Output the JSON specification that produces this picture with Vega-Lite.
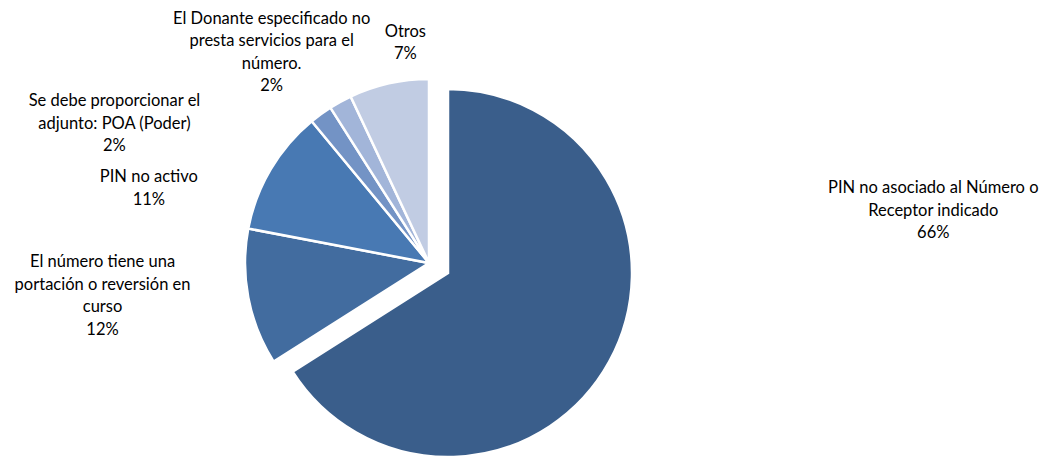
{
  "$schema": "https://vega.github.io/schema/vega-lite/v6.json",
  "width": 858,
  "height": 390,
  "autosize": {"type": "none"},
  "padding": {"left": 0, "top": 68, "right": 192, "bottom": 0},
  "background": "white",
  "config": {"view": {"stroke": null}},
  "data": {
    "values": [
      {"categoria": "PIN no asociado al Número o Receptor indicado", "valor": 66, "orden": 1, "etiqueta": "PIN no asociado al Número o\nReceptor indicado\n66%"},
      {"categoria": "El número tiene una portación o reversión en curso", "valor": 12, "orden": 2, "etiqueta": "El número tiene una\nportación o reversión en\ncurso\n12%"},
      {"categoria": "PIN no activo", "valor": 11, "orden": 3, "etiqueta": "PIN no activo\n11%"},
      {"categoria": "Se debe proporcionar el adjunto: POA (Poder)", "valor": 2, "orden": 4, "etiqueta": "Se debe proporcionar el\nadjunto: POA (Poder)\n2%"},
      {"categoria": "El Donante especificado no presta servicios para el número.", "valor": 2, "orden": 5, "etiqueta": "El Donante especificado no\npresta servicios para el\nnúmero.\n2%"},
      {"categoria": "Otros", "valor": 7, "orden": 6, "etiqueta": "Otros\n7%"}
    ]
  },
  "encoding": {
    "theta": {"field": "valor", "type": "quantitative", "stack": true},
    "order": {"field": "orden", "type": "quantitative"}
  },
  "layer": [
    {
      "mark": {"type": "arc", "outerRadius": 184, "stroke": "#ffffff", "strokeWidth": 2.5, "xOffset": 19, "yOffset": 10},
      "encoding": {
        "color": {
          "field": "categoria", "type": "nominal", "legend": null,
          "scale": {
            "domain": ["PIN no asociado al Número o Receptor indicado", "El número tiene una portación o reversión en curso", "PIN no activo", "Se debe proporcionar el adjunto: POA (Poder)", "El Donante especificado no presta servicios para el número.", "Otros"],
            "range": ["#3a5e8b", "#426c9f", "#4879b3", "#7393c5", "#a2b5d9", "#c1cce3"]
          }
        },
        "opacity": {"condition": {"test": "datum.orden == 1", "value": 1}, "value": 0}
      }
    },
    {
      "mark": {"type": "arc", "outerRadius": 184, "stroke": "#ffffff", "strokeWidth": 2.5},
      "encoding": {
        "color": {"field": "categoria", "type": "nominal", "legend": null},
        "opacity": {"condition": {"test": "datum.orden == 1", "value": 0}, "value": 1}
      }
    },
    {
      "mark": {"type": "text", "radius": 200, "xOffset": 19, "yOffset": 10, "dx": 310, "dy": -181, "align": "center", "baseline": "middle", "lineBreak": "\n", "font": "Lato", "fontSize": 16.5, "lineHeight": 22.5, "color": "#000000"},
      "encoding": {"text": {"condition": {"test": "datum.orden == 1", "field": "etiqueta"}, "value": ""}}
    },
    {
      "mark": {"type": "text", "radius": 200, "dx": -130, "dy": -38, "align": "center", "baseline": "middle", "lineBreak": "\n", "font": "Lato", "fontSize": 16.5, "lineHeight": 22.5, "color": "#000000"},
      "encoding": {"text": {"condition": {"test": "datum.orden == 2", "field": "etiqueta"}, "value": ""}}
    },
    {
      "mark": {"type": "text", "radius": 200, "dx": -108, "dy": 16, "align": "center", "baseline": "middle", "lineBreak": "\n", "font": "Lato", "fontSize": 16.5, "lineHeight": 22.5, "color": "#000000"},
      "encoding": {"text": {"condition": {"test": "datum.orden == 3", "field": "etiqueta"}, "value": ""}}
    },
    {
      "mark": {"type": "text", "radius": 200, "dx": -197, "dy": 0, "align": "center", "baseline": "middle", "lineBreak": "\n", "font": "Lato", "fontSize": 16.5, "lineHeight": 22.5, "color": "#000000"},
      "encoding": {"text": {"condition": {"test": "datum.orden == 4", "field": "etiqueta"}, "value": ""}}
    },
    {
      "mark": {"type": "text", "radius": 200, "dx": -61, "dy": -69, "align": "center", "baseline": "middle", "lineBreak": "\n", "font": "Lato", "fontSize": 16.5, "lineHeight": 22.5, "color": "#000000"},
      "encoding": {"text": {"condition": {"test": "datum.orden == 5", "field": "etiqueta"}, "value": ""}}
    },
    {
      "mark": {"type": "text", "radius": 200, "dx": 20, "dy": -36, "align": "center", "baseline": "middle", "lineBreak": "\n", "font": "Lato", "fontSize": 16.5, "lineHeight": 22.5, "color": "#000000"},
      "encoding": {"text": {"condition": {"test": "datum.orden == 6", "field": "etiqueta"}, "value": ""}}
    }
  ]
}
